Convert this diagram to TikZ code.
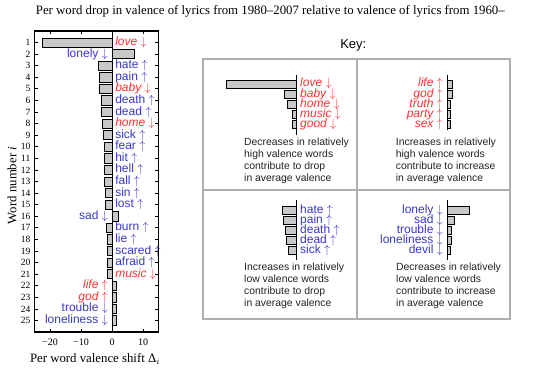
\documentclass[tikz,border=0pt]{standalone}
\usepackage{fontspec}
\setmainfont{Liberation Serif}
\setsansfont{Liberation Sans}
\definecolor{wred}{RGB}{255,50,50}
\definecolor{wblue}{RGB}{55,55,200}
\definecolor{barfill}{RGB}{200,200,200}
\definecolor{keygray}{RGB}{175,175,175}
\definecolor{desc}{RGB}{34,34,34}
\newcommand{\wup}{$\uparrow$}
\newcommand{\wdn}{$\downarrow$}
\begin{document}
\begin{tikzpicture}[x=1pt,y=-1pt,
  bar/.style={draw=black,fill=barfill,line width=0.8pt},
  zline/.style={draw=black,line width=0.7pt},
  wbase/.style={inner sep=0pt,text height=8.5pt,text depth=2.5pt},
  wordR/.style={wbase,font=\sffamily\itshape\fontsize{12}{12}\selectfont,text=wred},
  wordB/.style={wbase,font=\sffamily\fontsize{12}{12}\selectfont,text=wblue},
  numlab/.style={font=\fontsize{9.5}{10}\selectfont,inner sep=0pt},
  ticklab/.style={font=\fontsize{10}{10}\selectfont,inner sep=0pt},
  axlab/.style={font=\fontsize{12.8}{13}\selectfont,inner sep=0pt},
  keyline/.style={draw=keygray,line width=1.3pt},
  desctext/.style={font=\sffamily\fontsize{10.4}{12}\selectfont,text=desc,align=left,inner sep=0pt,anchor=north west}
]
\useasboundingbox (0,0) rectangle (551,374);

% title
\node[anchor=base west,inner sep=0pt,font=\fontsize{12.8}{14}\selectfont] (title) at (35.7,15)
  {Per word drop in valence of lyrics from 1980–2007 relative to valence of lyrics from 1960–};

% ---------------- main plot ----------------
\begin{scope}[shift={(112,31)},x=3.1pt,y=-11.58pt]
  \foreach \k/\v in {1/-22.6,2/7.1,3/-4.3,4/-4.2,5/-4.0,6/-3.3,7/-3.3,8/-3.0,9/-2.7,10/-2.6,
      11/-2.5,12/-2.5,13/-2.4,14/-2.2,15/-2.2,16/2.2,17/-1.9,18/-1.6,19/-1.5,20/-1.5,
      21/-1.4,22/1.5,23/1.4,24/1.4,25/1.3}
    \draw[bar] (0,\k-0.4) rectangle (\v,\k+0.4);
  \draw[zline] (0,0) -- (0,26);
  \foreach \k in {1,...,25} {
    \draw[line width=0.8pt] (-25,\k) -- ++(1,0);
    \draw[line width=0.8pt] (15,\k) -- ++(-1,0);
    \node[numlab,anchor=east] (n\k) at (-26.3,\k) {\k};
  }
  \foreach \t/\lab in {-20/−20,-10/−10,0/0,10/10} {
    \draw[line width=0.8pt] (\t,0) -- (\t,0.3);
    \draw[line width=0.8pt] (\t,26) -- (\t,25.7);
    \node[ticklab] (t\t) at (\t,26.9) {\lab};
  }
  \draw[line width=1.6pt] (-25,0) rectangle (15,26);

  % right-side labels
  \node[wordR,anchor=west] (w1) at (1.0,1) {love \wdn};
  \node[wordB,anchor=west] (w3) at (1.0,3) {hate \wup};
  \node[wordB,anchor=west] (w4) at (1.0,4) {pain \wup};
  \node[wordR,anchor=west] (w5) at (1.0,5) {baby \wdn};
  \node[wordB,anchor=west] (w6) at (1.0,6) {death \wup};
  \node[wordB,anchor=west] (w7) at (1.0,7) {dead \wup};
  \node[wordR,anchor=west] (w8) at (1.0,8) {home \wdn};
  \node[wordB,anchor=west] (w9) at (1.0,9) {sick \wup};
  \node[wordB,anchor=west] (w10) at (1.0,10) {fear \wup};
  \node[wordB,anchor=west] (w11) at (1.0,11) {hit \wup};
  \node[wordB,anchor=west] (w12) at (1.0,12) {hell \wup};
  \node[wordB,anchor=west] (w13) at (1.0,13) {fall \wup};
  \node[wordB,anchor=west] (w14) at (1.0,14) {sin \wup};
  \node[wordB,anchor=west] (w15) at (1.0,15) {lost \wup};
  \node[wordB,anchor=west] (w17) at (1.0,17) {burn \wup};
  \node[wordB,anchor=west] (w18) at (1.0,18) {lie \wup};
  \node[wordB,anchor=west] (w19) at (1.0,19) {scared \wup};
  \node[wordB,anchor=west] (w20) at (1.0,20) {afraid \wup};
  \node[wordR,anchor=west] (w21) at (1.0,21) {music \wdn};
  % left-side labels
  \node[wordB,anchor=east] (w2) at (-1.3,2) {lonely \wdn};
  \node[wordB,anchor=east] (w16) at (-1.3,16) {sad \wdn};
  \node[wordR,anchor=east] (w22) at (-1.3,22) {life \wup};
  \node[wordR,anchor=east] (w23) at (-1.3,23) {god \wup};
  \node[wordB,anchor=east] (w24) at (-1.3,24) {trouble \wdn};
  \node[wordB,anchor=east] (w25) at (-1.3,25) {loneliness \wdn};
\end{scope}

\node[axlab] (xlab) at (95,359) {Per word valence shift Δ$_i$};
\node[axlab,rotate=90] (ylab) at (12,185.5) {Word number \textit{i}};

% ---------------- key ----------------
\node[inner sep=0pt,font=\sffamily\fontsize{13}{13}\selectfont] (key) at (353.3,45) {Key:};
\draw[keyline] (203,59) rectangle (510,319);
\draw[keyline] (357,59) -- (357,319);
\draw[keyline] (203,190) -- (510,190);

% panel 1
\foreach \x [count=\i from 0] in {226.7,284,287.3,292,292.7}
  \draw[bar] (\x,{80+10.1*\i}) rectangle (296.7,{88+10.1*\i});
\draw[zline] (296.7,75) -- (296.7,135);
\foreach \w [count=\i from 0] in {love,baby,home,music,good}
  \node[wordR,anchor=west] (a\i) at (300,{84+10.1*\i}) {\w\ \wdn};
\node[desctext] (d1) at (244,137.4) {Decreases in relatively\\high valence words\\contribute to drop\\in average valence};

% panel 2
\foreach \x [count=\i from 0] in {452.3,452.3,450,450,450}
  \draw[bar] (447.7,{80+10.1*\i}) rectangle (\x,{88+10.1*\i});
\draw[zline] (447.7,75) -- (447.7,130);
\foreach \w [count=\i from 0] in {life,god,truth,party,sex}
  \node[wordR,anchor=east] (b\i) at (443,{84+10.1*\i}) {\w\ \wup};
\node[desctext] (d2) at (395.7,137.4) {Increases in relatively\\high valence words\\contribute to increase\\in average valence};

% panel 3
\foreach \x [count=\i from 0] in {282.7,283.3,285.3,286.7,288.3}
  \draw[bar] (\x,{206.7+10*\i}) rectangle (296.7,{214.7+10*\i});
\draw[zline] (296.7,200) -- (296.7,260);
\foreach \w [count=\i from 0] in {hate,pain,death,dead,sick}
  \node[wordB,anchor=west] (c\i) at (300,{210.7+10*\i}) {\w\ \wup};
\node[desctext] (d3) at (244,263) {Increases in relatively\\low valence words\\contribute to drop\\in average valence};

% panel 4
\foreach \x [count=\i from 0] in {469.3,454,451.7,451.7,450.7}
  \draw[bar] (447.7,{206.7+10*\i}) rectangle (\x,{214.7+10*\i});
\draw[zline] (447.7,200) -- (447.7,260);
\foreach \w [count=\i from 0] in {lonely,sad,trouble,loneliness,devil}
  \node[wordB,anchor=east] (e\i) at (443,{210.7+10*\i}) {\w\ \wdn};
\node[desctext] (d4) at (396,263) {Decreases in relatively\\low valence words\\contribute to increase\\in average valence};
\end{tikzpicture}
\end{document}
